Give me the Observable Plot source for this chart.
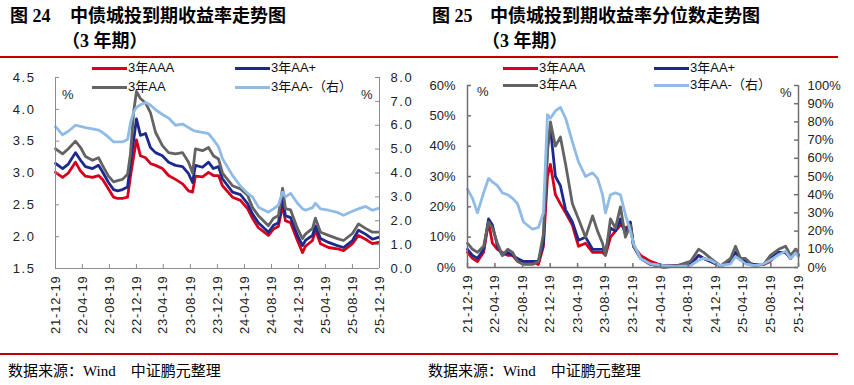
<!DOCTYPE html>
<html><head><meta charset="utf-8">
<script src="https://cdn.jsdelivr.net/npm/d3@7"></script>
<script src="https://cdn.jsdelivr.net/npm/@observablehq/plot@0.6"></script>
<style>
body{margin:0;background:#fff;}
#root{position:relative;width:854px;height:385px;overflow:hidden;background:#fff;font-family:"Liberation Sans","Noto Sans CJK SC",sans-serif;color:#000;}
.t{position:absolute;white-space:nowrap;}
.title{font-family:"Liberation Serif","Noto Sans CJK SC",serif;font-weight:bold;font-size:18px;line-height:20px;}
.cap{font-family:"Liberation Serif","Noto Sans CJK SC",serif;font-size:15px;line-height:18px;}
.rule{position:absolute;background:#c00000;height:2px;}
.leg{position:absolute;font-size:13px;line-height:16px;white-space:nowrap;color:#111;}
.legline{position:absolute;height:3px;}
.pct{position:absolute;font-size:13px;line-height:16px;color:#222;}
.panel{position:absolute;overflow:hidden;}
.panel svg{max-width:none !important;}
.panel svg g[aria-label="x-axis tick label"] text{letter-spacing:0.8px;}
.panel svg.lp g[aria-label="y-axis tick label"] text{letter-spacing:1.6px;}
</style>
</head><body>
<div id="root"></div>
<script>
// ---------- data ----------
const xTickLabels = ["21-12-19","22-04-19","22-08-19","22-12-19","23-04-19","23-08-19","23-12-19","24-04-19","24-08-19","24-12-19","25-04-19","25-08-19","25-12-19"];
const seriesNames = ["3年AAA","3年AA+","3年AA","3年AA-（右）"];
const seriesColors = ["#d6001c","#1c2a8e","#636363","#8fbbe6"];

// Figure 24: yields (%), AA- on the right axis
const yieldDates = ["2021-12-19","2022-01-20","2022-02-15","2022-03-19","2022-04-11","2022-05-03","2022-06-04","2022-07-01","2022-07-19","2022-08-15","2022-09-07","2022-09-25","2022-10-17","2022-11-09","2022-11-22","2022-12-06","2022-12-19","2023-01-06","2023-01-29","2023-02-20","2023-03-15","2023-04-15","2023-05-13","2023-06-13","2023-07-15","2023-08-11","2023-08-29","2023-09-11","2023-10-13","2023-11-09","2023-12-01","2023-12-24","2024-01-11","2024-02-25","2024-04-01","2024-05-03","2024-05-25","2024-06-21","2024-08-05","2024-08-28","2024-09-19","2024-10-08","2024-10-21","2024-11-13","2024-12-14","2025-01-06","2025-01-19","2025-02-20","2025-03-05","2025-03-28","2025-05-03","2025-06-12","2025-07-10","2025-08-19","2025-09-15","2025-10-17","2025-11-17","2025-12-14"];
const yieldAAA = [3.01,2.93,3.00,3.17,3.03,2.95,2.93,2.96,2.90,2.75, 2.62,2.60,2.60,2.62,2.95,3.25,3.52,3.27,3.24,3.15, 3.12,3.07,2.96,2.90,2.83,2.72,2.70,2.95,2.94,3.01, 2.96,2.96,2.80,2.62,2.57,2.44,2.29,2.14,2.02,2.12, 2.16,2.49,2.25,2.22,1.94,1.75,1.85,1.94,2.10,1.89, 1.83,1.81,1.78,1.89,2.02,1.96,1.89,1.91];
const yieldAAp = [3.15,3.07,3.14,3.32,3.20,3.10,3.07,3.12,3.02,2.85, 2.74,2.72,2.74,2.78,3.15,3.50,3.85,3.59,3.62,3.40, 3.32,3.27,3.17,3.12,3.10,2.99,2.85,3.12,3.09,3.17, 3.07,3.10,2.91,2.70,2.66,2.52,2.36,2.22,2.07,2.18, 2.22,2.60,2.33,2.30,2.02,1.86,1.94,2.02,2.17,1.97, 1.91,1.86,1.83,1.94,2.10,2.04,1.96,1.99];
const yieldAA = [3.38,3.30,3.38,3.50,3.40,3.26,3.20,3.24,3.12,2.95, 2.86,2.88,2.90,2.98,3.30,3.95,4.28,4.17,4.10,3.95, 3.64,3.43,3.32,3.30,3.32,3.17,3.00,3.38,3.35,3.40, 3.27,3.22,3.00,2.80,2.75,2.65,2.46,2.33,2.17,2.29, 2.33,2.76,2.44,2.42,2.13,1.97,2.04,2.13,2.29,2.07, 2.02,1.97,1.94,2.05,2.20,2.13,2.07,2.07];
const yieldAAm = [5.94,5.60,5.75,6.00,5.95,5.90,5.85,5.80,5.70,5.50, 5.30,5.30,5.30,5.40,6.10,6.55,6.75,6.86,6.95,6.85, 6.65,6.45,6.30,6.00,6.05,5.90,5.80,5.75,5.70,5.65, 5.40,5.10,4.60,3.90,3.45,3.15,3.00,2.57,2.36,2.50, 2.65,3.20,3.00,3.15,2.73,2.50,2.44,2.55,2.73,2.50, 2.44,2.35,2.23,2.40,2.50,2.60,2.44,2.52];
const yieldLeftTicks = [1.5,2.0,2.5,3.0,3.5,4.0,4.5];
const yieldRightTicks = [0,1,2,3,4,5,6,7,8];

// Figure 25: percentiles (%), AA- on the right axis
const pctDates = ["2021-12-19","2022-01-10","2022-02-01","2022-02-28","2022-03-22","2022-04-08","2022-04-30","2022-05-22","2022-06-14","2022-07-06","2022-07-28","2022-08-23","2022-10-02","2022-10-28","2022-11-19","2022-12-07","2022-12-20","2023-01-11","2023-02-02","2023-02-25","2023-03-27","2023-04-23","2023-05-24","2023-06-24","2023-07-16","2023-08-07","2023-08-20","2023-09-11","2023-10-03","2023-10-25","2023-11-16","2023-12-08","2023-12-22","2024-01-22","2024-03-06","2024-05-02","2024-06-24","2024-08-29","2024-10-04","2024-10-26","2024-11-26","2025-01-09","2025-02-22","2025-03-16","2025-04-07","2025-04-29","2025-06-03","2025-07-18","2025-08-17","2025-09-22","2025-10-23","2025-11-14","2025-12-06","2025-12-19"];
const pctAAA = [5,3,2,5,15,8,6,5,4,4, 2,2,2,1,7,30,34,24,21,18, 14,7,8,5,5,5,4,10,12,14, 13,14,7,4,2,0.5,0.5,1,4,3, 2,0.5,2,5,3,2,1,1,2,5, 5,3,6,4];
const pctAAp = [6,4,3,6,16,14,7,4,5,4, 3,2,2,2,8,40,46,30,27,19, 15,9,10,6,6,6,5,13,12,16, 11,15,7,3,1,0.5,0.5,1,4,3, 2,0.5,2,5,3,2,1,1,3,5, 5,3,5,4];
const pctAA = [8,6,5,7,15,13,8,4,6,5, 2,1,1,2,11,38,48,40,43,34, 21,16,10,17,12,8,4,16,13,20, 10,14,7,3,1,0,0.5,2,6,5, 3,0.5,3,7,3,3,0.5,1,4,6, 7,4,6,4];
const pctAAm = [43,38,30,41,49,47,45,41,40,38, 35,25,21,22,30,84,82,86,88,82, 69,58,50,52,49,40,30,40,41,40, 29,20,13,5,2,1,0.5,1,4,5, 4,1,2,6,4,2,1,2,4,7, 9,5,8,6];
const pctLeftTicks = [0,10,20,30,40,50,60];
const pctRightTicks = [0,10,20,30,40,50,60,70,80,90,100];

// ---------- helpers ----------
const parseDay = d3.utcParse("%Y-%m-%d");
const parseTick = d3.utcParse("%y-%m-%d");
const xTicks = xTickLabels.map(parseTick);
const fmtTick = d3.utcFormat("%y-%m-%d");
const root = document.getElementById("root");

function el(cls, text, style) {
  const d = document.createElement("div");
  d.className = cls;
  if (text != null) d.textContent = text;
  Object.assign(d.style, style);
  root.appendChild(d);
  return d;
}

function panel(o) {
  const innerW = o.width - o.ml - o.mr, innerH = o.height - o.mt - o.mb;
  const dates = o.dates.map(parseDay);
  const marks = [];
  o.values.forEach((vals, k) => {
    const v = k === 3 ? vals.map(o.toLeft) : vals;
    marks.push(Plot.line(v, {x: (d, i) => dates[i], y: d => d, stroke: seriesColors[k], strokeWidth: 2.8, strokeLinejoin: "round", strokeLinecap: "round"}));
  });
  const ax = {stroke: o.axisColor, strokeWidth: o.axisWidth};
  marks.push(
    Plot.ruleX([xTicks[0]], ax),
    Plot.ruleX([xTicks[xTicks.length - 1]], ax),
    Plot.ruleY([o.yDomain[0]], ax),
    Plot.tickY(o.leftTicks, {y: d => d, insetRight: innerW - 4, ...ax}),
    Plot.tickY(o.rightTicks.map(o.toLeft), {y: d => d, insetLeft: innerW - 4, ...ax}),
    Plot.tickX(xTicks, {x: d => d, insetTop: innerH - 4, ...ax}),
    Plot.axisY({ticks: o.leftTicks, tickSize: 0, tickPadding: o.leftPad, tickFormat: o.leftFmt, fill: "#222"}),
    Plot.axisY({anchor: "right", ticks: o.rightTicks.map(o.toLeft), tickSize: 0, tickPadding: o.rightPad, tickFormat: d => o.rightFmt(o.fromLeft(d)), textAnchor: "start", fill: "#222"}),
    Plot.axisX({ticks: xTicks, tickSize: 0, tickRotate: -90, tickPadding: 7, tickFormat: fmtTick, fill: "#222"})
  );
  const svg = Plot.plot({
    width: o.width, height: o.height,
    marginLeft: o.ml, marginRight: o.mr, marginTop: o.mt, marginBottom: o.mb,
    style: {fontFamily: "'Liberation Sans', Arial, sans-serif", fontSize: "13px", color: "#222", background: "none", overflow: "visible", maxWidth: "none"},
    x: {type: "utc", domain: [xTicks[0], xTicks[xTicks.length - 1]]},
    y: {domain: o.yDomain},
    marks
  });
  svg.classList.add(o.cls);
  const wrap = document.createElement("div");
  wrap.className = "panel";
  Object.assign(wrap.style, {left: o.left + "px", top: o.top + "px", width: o.width + "px", height: o.height + "px"});
  wrap.appendChild(svg);
  root.appendChild(wrap);
}

// ---------- figure 24 ----------
panel({
  cls: "lp", left: 0, top: 57, width: 420, height: 290,
  ml: 55, mr: 41, mt: 20, mb: 79,
  dates: yieldDates, values: [yieldAAA, yieldAAp, yieldAA, yieldAAm],
  yDomain: [1.5, 4.5], leftTicks: yieldLeftTicks, rightTicks: yieldRightTicks,
  toLeft: v => 1.5 + v * 3 / 8, fromLeft: d => (d - 1.5) * 8 / 3,
  leftFmt: d => d.toFixed(1), rightFmt: v => Math.abs(v).toFixed(1),
  leftPad: 20, rightPad: 11, axisColor: "#8c8c8c", axisWidth: 1
});

// ---------- figure 25 ----------
panel({
  cls: "rp", left: 420, top: 57, width: 434, height: 290,
  ml: 47, mr: 56, mt: 28, mb: 80,
  dates: pctDates, values: [pctAAA, pctAAp, pctAA, pctAAm],
  yDomain: [0, 60], leftTicks: pctLeftTicks, rightTicks: pctRightTicks,
  toLeft: v => v * 0.6, fromLeft: d => d / 0.6,
  leftFmt: d => d + "%", rightFmt: v => Math.round(v) + "%",
  leftPad: 12, rightPad: 9, axisColor: "#707070", axisWidth: 1.5
});

// ---------- titles, rules, captions ----------
el("t title", "图 24", {left: "10px", top: "6px"});
el("t title", "中债城投到期收益率走势图", {left: "70px", top: "6px"});
el("t title", "（3 年期）", {left: "62px", top: "31px"});
el("t title", "图 25", {left: "432px", top: "6px"});
el("t title", "中债城投到期收益率分位数走势图", {left: "490px", top: "6px"});
el("t title", "（3 年期）", {left: "482px", top: "31px"});
el("rule", null, {left: "0px", top: "56px", width: "838px"});
el("rule", null, {left: "0px", top: "353px", width: "838px"});
el("t cap", "数据来源：Wind　中证鹏元整理", {left: "8px", top: "362px"});
el("t cap", "数据来源：Wind　中证鹏元整理", {left: "428px", top: "362px"});

// ---------- legends ----------
function legend(cols, rows) {
  const place = [[0, 0], [1, 0], [0, 1], [1, 1]];
  place.forEach(([c, r], k) => {
    const x = cols[c], y = rows[r];
    el("legline", null, {left: x + "px", top: (y - 1.5) + "px", width: "35px", background: seriesColors[k]});
    el("leg", seriesNames[k], {left: (x + 36) + "px", top: (y - 8) + "px"});
  });
}
legend([92, 235], [68, 87]);
legend([503, 654], [68, 85]);

el("pct", "%", {left: "62px", top: "87px"});
el("pct", "%", {left: "361px", top: "87px"});
el("pct", "%", {left: "477px", top: "84px"});
el("pct", "%", {left: "780px", top: "85px"});
</script>
</body></html>
